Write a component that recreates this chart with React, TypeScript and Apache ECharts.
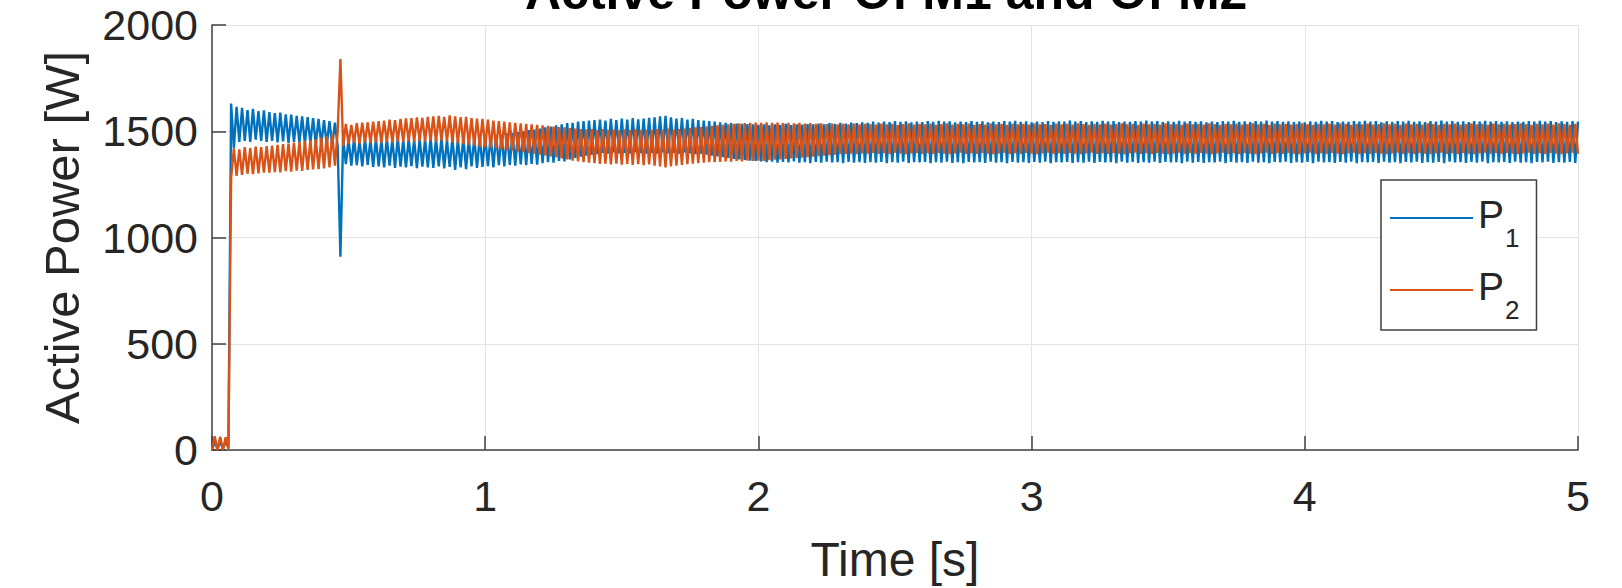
import React, { useEffect, useRef } from 'react';
import * as echarts from 'echarts';

const TITLE = 'Active Power Of M1 and Of M2';
const X_LABEL = 'Time [s]';
const Y_LABEL = 'Active Power [W]';
const SERIES_NAMES = ['P1', 'P2'];
const SERIES_COLORS = ['#0072BD', '#D95319'];
const X_MIN = 0;
const X_MAX = 5;
const X_STEP = 1;
const Y_MIN = 0;
const Y_MAX = 2000;
const Y_STEP = 500;
// sampling step of the recorded signals, in seconds (sample i is at t = i * SAMPLE_STEP)
const SAMPLE_STEP = 0.01;

// P1 [W], one value per 0.01 s, t = 0.00 ... 5.00 (read peaks / troughs)
const P1_VALUES = [
  0, 40, 5, 40, 5, 40, 10, 1630, 1420, 1615, 1450, 1610, 1455, 1600, 1450, 1605, 1460, 1595, 1455, 1598,
  1450, 1590, 1455, 1585, 1448, 1588, 1452, 1580, 1445, 1578, 1450, 1572, 1447, 1570, 1442, 1566, 1445, 1562, 1440, 1558,
  1438, 1552, 1435, 1548, 1432, 1540, 1430, 910, 1470, 1345, 1462, 1338, 1468, 1340, 1458, 1335, 1465, 1342, 1460, 1332,
  1466, 1335, 1460, 1330, 1468, 1338, 1462, 1328, 1470, 1333, 1458, 1330, 1465, 1336, 1460, 1326, 1467, 1334, 1462, 1330,
  1470, 1328, 1464, 1335, 1468, 1325, 1460, 1332, 1466, 1318, 1462, 1330, 1470, 1322, 1465, 1335, 1468, 1328, 1472, 1332,
  1475, 1336, 1478, 1330, 1482, 1340, 1485, 1335, 1490, 1342, 1492, 1338, 1496, 1344, 1500, 1340, 1505, 1346, 1508, 1343,
  1512, 1350, 1518, 1355, 1522, 1352, 1528, 1360, 1532, 1358, 1538, 1368, 1540, 1375, 1545, 1380, 1548, 1385, 1550, 1390,
  1552, 1392, 1555, 1398, 1550, 1395, 1558, 1400, 1553, 1396, 1560, 1398, 1555, 1394, 1562, 1400, 1556, 1397, 1560, 1395,
  1563, 1398, 1565, 1395, 1570, 1400, 1572, 1396, 1566, 1398, 1560, 1395, 1562, 1400, 1555, 1396, 1558, 1392, 1552, 1395,
  1550, 1390, 1548, 1385, 1545, 1382, 1542, 1378, 1540, 1375, 1538, 1370, 1536, 1368, 1535, 1365, 1534, 1362, 1532, 1360,
  1530, 1358, 1533, 1355, 1528, 1357, 1532, 1352, 1530, 1356, 1535, 1353, 1529, 1358, 1533, 1352, 1531, 1355, 1534, 1350,
  1532, 1356, 1536, 1352, 1533, 1357, 1538, 1353, 1535, 1355, 1540, 1350, 1536, 1356, 1541, 1352, 1538, 1355, 1542, 1351,
  1540, 1355, 1545, 1352, 1541, 1356, 1546, 1350, 1543, 1354, 1548, 1352, 1544, 1357, 1547, 1351, 1542, 1355, 1546, 1353,
  1543, 1356, 1548, 1350, 1544, 1355, 1549, 1352, 1545, 1357, 1547, 1351, 1542, 1354, 1546, 1350, 1543, 1356, 1548, 1353,
  1544, 1355, 1547, 1351, 1542, 1357, 1546, 1352, 1543, 1355, 1548, 1350, 1545, 1356, 1549, 1352, 1544, 1354, 1547, 1351,
  1542, 1356, 1546, 1352, 1543, 1357, 1548, 1350, 1544, 1355, 1547, 1353, 1545, 1356, 1550, 1351, 1546, 1355, 1548, 1352,
  1543, 1357, 1547, 1351, 1544, 1356, 1549, 1353, 1545, 1355, 1548, 1350, 1543, 1357, 1546, 1352, 1544, 1356, 1548, 1351,
  1545, 1355, 1550, 1352, 1546, 1357, 1548, 1351, 1543, 1356, 1547, 1353, 1544, 1355, 1549, 1350, 1545, 1357, 1548, 1352,
  1544, 1356, 1547, 1351, 1542, 1355, 1546, 1353, 1543, 1357, 1548, 1350, 1545, 1356, 1549, 1352, 1544, 1355, 1547, 1351,
  1543, 1357, 1548, 1352, 1545, 1355, 1550, 1350, 1546, 1356, 1548, 1353, 1544, 1357, 1547, 1351, 1543, 1355, 1546, 1352,
  1542, 1356, 1547, 1350, 1544, 1357, 1549, 1353, 1545, 1355, 1548, 1351, 1543, 1356, 1546, 1352, 1544, 1357, 1548, 1350,
  1545, 1355, 1549, 1353, 1546, 1356, 1548, 1351, 1542, 1357, 1547, 1352, 1544, 1355, 1548, 1350, 1545, 1356, 1549, 1353,
  1544, 1357, 1547, 1351, 1543, 1355, 1548, 1352, 1545, 1356, 1550, 1350, 1546, 1357, 1548, 1353, 1544, 1355, 1547, 1351,
  1543, 1356, 1548, 1352, 1545, 1357, 1549, 1350, 1546, 1355, 1548, 1353, 1544, 1356, 1547, 1351, 1543, 1357, 1546, 1352,
  1544, 1355, 1548, 1350, 1545, 1356, 1549, 1353, 1546, 1357, 1548, 1351, 1543, 1355, 1547, 1352, 1544, 1356, 1548, 1351,
  1545,
];

// P2 [W], one value per 0.01 s, t = 0.00 ... 5.00 (read peaks / troughs)
const P2_VALUES = [
  0, 65, 0, 62, 0, 60, 5, 1280, 1420, 1290, 1415, 1295, 1425, 1300, 1420, 1298, 1428, 1302, 1425, 1305,
  1430, 1305, 1432, 1308, 1436, 1306, 1440, 1312, 1442, 1310, 1446, 1315, 1450, 1313, 1455, 1318, 1458, 1320, 1462, 1322,
  1470, 1325, 1478, 1330, 1488, 1338, 1500, 1840, 1430, 1535, 1440, 1530, 1445, 1538, 1442, 1540, 1448, 1542, 1445, 1545,
  1448, 1548, 1446, 1550, 1450, 1555, 1448, 1552, 1452, 1558, 1450, 1560, 1454, 1562, 1450, 1565, 1455, 1563, 1452, 1568,
  1455, 1570, 1450, 1572, 1456, 1568, 1452, 1575, 1448, 1570, 1445, 1566, 1440, 1568, 1436, 1562, 1432, 1560, 1428, 1558,
  1425, 1555, 1422, 1550, 1418, 1548, 1415, 1545, 1410, 1542, 1408, 1540, 1404, 1537, 1400, 1535, 1398, 1532, 1395, 1530,
  1390, 1528, 1386, 1525, 1382, 1522, 1378, 1520, 1372, 1518, 1368, 1515, 1362, 1512, 1358, 1510, 1355, 1508, 1352, 1510,
  1350, 1506, 1346, 1510, 1348, 1505, 1344, 1508, 1347, 1504, 1343, 1509, 1346, 1506, 1342, 1510, 1345, 1505, 1340, 1508,
  1344, 1506, 1338, 1510, 1335, 1507, 1330, 1512, 1334, 1508, 1338, 1510, 1342, 1512, 1345, 1515, 1348, 1518, 1350, 1520,
  1352, 1522, 1354, 1525, 1355, 1528, 1356, 1530, 1358, 1533, 1357, 1535, 1360, 1537, 1358, 1538, 1361, 1540, 1360, 1541,
  1362, 1540, 1360, 1542, 1364, 1539, 1366, 1541, 1368, 1538, 1370, 1540, 1372, 1537, 1375, 1539, 1376, 1536, 1378, 1538,
  1380, 1535, 1383, 1537, 1385, 1534, 1388, 1536, 1390, 1533, 1392, 1535, 1393, 1532, 1395, 1536, 1394, 1533, 1396, 1535,
  1395, 1534, 1398, 1531, 1394, 1536, 1397, 1532, 1393, 1535, 1399, 1530, 1395, 1534, 1392, 1537, 1396, 1531, 1398, 1535,
  1394, 1532, 1397, 1536, 1393, 1530, 1398, 1534, 1395, 1537, 1392, 1531, 1396, 1535, 1399, 1532, 1394, 1536, 1397, 1530,
  1393, 1534, 1398, 1531, 1395, 1537, 1392, 1533, 1396, 1535, 1399, 1530, 1394, 1536, 1397, 1532, 1393, 1535, 1398, 1531,
  1395, 1537, 1392, 1533, 1396, 1534, 1399, 1530, 1394, 1536, 1397, 1532, 1393, 1535, 1398, 1531, 1395, 1537, 1392, 1534,
  1396, 1530, 1399, 1535, 1394, 1532, 1397, 1536, 1393, 1531, 1398, 1534, 1395, 1537, 1392, 1533, 1396, 1535, 1399, 1530,
  1394, 1536, 1397, 1532, 1393, 1535, 1398, 1531, 1395, 1537, 1392, 1533, 1396, 1534, 1399, 1530, 1394, 1536, 1397, 1532,
  1393, 1535, 1398, 1531, 1395, 1537, 1392, 1534, 1396, 1530, 1399, 1535, 1394, 1532, 1397, 1536, 1393, 1531, 1398, 1534,
  1395, 1537, 1392, 1533, 1396, 1535, 1399, 1530, 1394, 1536, 1397, 1532, 1393, 1535, 1398, 1531, 1395, 1534, 1392, 1537,
  1396, 1533, 1399, 1530, 1394, 1535, 1397, 1532, 1393, 1536, 1398, 1531, 1395, 1537, 1392, 1534, 1396, 1530, 1399, 1535,
  1394, 1532, 1397, 1536, 1393, 1531, 1398, 1534, 1395, 1537, 1392, 1533, 1396, 1535, 1399, 1530, 1394, 1536, 1397, 1532,
  1393, 1535, 1398, 1531, 1395, 1537, 1392, 1534, 1396, 1530, 1399, 1535, 1394, 1532, 1397, 1536, 1393, 1531, 1398, 1534,
  1395, 1537, 1392, 1533, 1396, 1535, 1399, 1530, 1394, 1536, 1397, 1532, 1393, 1535, 1398, 1531, 1395, 1534, 1392, 1537,
  1396, 1533, 1399, 1530, 1394, 1535, 1397, 1532, 1393, 1536, 1398, 1531, 1395, 1537, 1392, 1534, 1396, 1530, 1399, 1535,
  1394,
];

const FONT = '"Liberation Sans", Arial, Helvetica, sans-serif';
const TEXT_COLOR = '#262626';
const AXIS_COLOR = '#404040';

function toPoints(values: number[]): [number, number][] {
  return values.map((v, i) => [Math.round(i * SAMPLE_STEP * 1000) / 1000, v]);
}

export default function App() {
  const ref = useRef<HTMLDivElement>(null);

  useEffect(() => {
    if (!ref.current) return;
    const chart = echarts.init(ref.current, null, { renderer: 'svg' });
    const seriesValues = [P1_VALUES, P2_VALUES];

    chart.setOption({
      animation: false,
      backgroundColor: '#ffffff',
      title: {
        text: TITLE,
        left: 525,
        top: -33,
        padding: 0,
        textStyle: { fontSize: 50, fontWeight: 'bold', color: '#000000', fontFamily: FONT },
      },
      grid: { left: 212, top: 25, right: 44, bottom: 136, containLabel: false },
      legend: {
        data: SERIES_NAMES,
        orient: 'vertical',
        left: 1381,
        top: 180,
        padding: [5, 17, 7, 9],
        itemGap: 6,
        itemWidth: 83,
        itemHeight: 2,
        icon: 'rect',
        backgroundColor: '#ffffff',
        borderColor: AXIS_COLOR,
        borderWidth: 1.5,
        borderRadius: 0,
        selectedMode: false,
        formatter: (name: string) => `{p|P}{s|${name.slice(1)}}`,
        textStyle: {
          color: TEXT_COLOR,
          fontFamily: FONT,
          rich: {
            p: { fontSize: 39, lineHeight: 66, height: 39, padding: [0, 0, 8, 0], fontFamily: FONT, color: TEXT_COLOR },
            s: { fontSize: 26, lineHeight: 66, height: 26, padding: [40, 0, 0, 1], fontFamily: FONT, color: TEXT_COLOR },
          },
        },
      },
      xAxis: {
        type: 'value',
        min: X_MIN,
        max: X_MAX,
        interval: X_STEP,
        name: X_LABEL,
        nameLocation: 'middle',
        nameGap: 85,
        nameTextStyle: { fontSize: 48, color: TEXT_COLOR, fontFamily: FONT },
        axisLine: { show: true, onZero: false, lineStyle: { color: AXIS_COLOR, width: 1.5 } },
        axisTick: { show: true, inside: true, length: 14, lineStyle: { color: AXIS_COLOR, width: 1.5 } },
        axisLabel: { fontSize: 43, color: TEXT_COLOR, margin: 24, fontFamily: FONT, formatter: (v: number) => String(v) },
        splitLine: { show: true, lineStyle: { color: '#e3e3e3', width: 1 } },
      },
      yAxis: {
        type: 'value',
        min: Y_MIN,
        max: Y_MAX,
        interval: Y_STEP,
        name: Y_LABEL,
        nameLocation: 'middle',
        nameGap: 126,
        nameTextStyle: { fontSize: 49, color: TEXT_COLOR, fontFamily: FONT },
        axisLine: { show: true, onZero: false, lineStyle: { color: AXIS_COLOR, width: 1.5 } },
        axisTick: { show: true, inside: true, length: 14, lineStyle: { color: AXIS_COLOR, width: 1.5 } },
        axisLabel: { fontSize: 43, color: TEXT_COLOR, margin: 14, fontFamily: FONT, formatter: (v: number) => String(v) },
        splitLine: { show: true, lineStyle: { color: '#e3e3e3', width: 1 } },
      },
      series: SERIES_NAMES.map((name, k) => ({
        name,
        type: 'line',
        data: toPoints(seriesValues[k]),
        showSymbol: false,
        symbol: 'none',
        silent: true,
        color: SERIES_COLORS[k],
        lineStyle: { color: SERIES_COLORS[k], width: 2.4 },
      })),
    });

    return () => chart.dispose();
  }, []);

  return (
    <div
      ref={ref}
      style={{ position: 'absolute', left: 0, top: 0, width: 1622, height: 588, background: '#fff' }}
    />
  );
}
